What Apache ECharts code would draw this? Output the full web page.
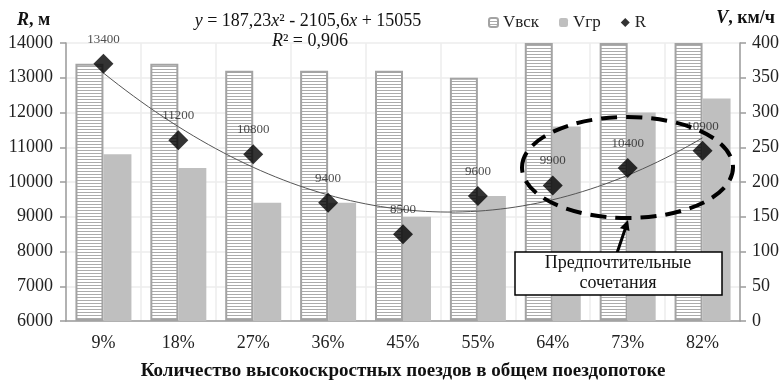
<!DOCTYPE html>
<html><head><meta charset="utf-8">
<script src="https://cdn.jsdelivr.net/npm/echarts@6/dist/echarts.min.js"></script>
<style>html,body{margin:0;padding:0;background:#fff}#c{width:779px;height:381px}</style>
</head><body><div id="c"></div>
<script>
// ---- data ----
const categories = ['9%','18%','27%','36%','45%','55%','64%','73%','82%'];
const vHighSpeed = [370,370,360,360,360,350,400,400,400];   // Vвск, км/ч (last three reach the top)
const vFreight   = [240,220,170,170,150,180,280,300,320];   // Vгр, км/ч
const radius     = [13400,11200,10800,9400,8500,9600,9900,10400,10900]; // R, м
const trendCoef  = [187.23, -2105.6, 15055];                // y = a x^2 + b x + c
const leftTicks  = [6000,7000,8000,9000,10000,11000,12000,13000,14000];
const rightTicks = [0,50,100,150,200,250,300,350,400];

const FONT = 'Liberation Serif';
const chart = echarts.init(document.getElementById('c'), null, {renderer:'canvas'});

// hatched pattern for Vвск
const pc = document.createElement('canvas'); pc.width = 4; pc.height = 3;
const g = pc.getContext('2d');
g.fillStyle = '#ffffff'; g.fillRect(0,0,4,3);
g.fillStyle = '#ababab'; g.fillRect(0,0,4,1);

const trend = [];
for (let i = 0; i <= 80; i++) {
  const x = 1 + i * 0.1;
  trend.push([x, trendCoef[0]*x*x + trendCoef[1]*x + trendCoef[2]]);
}

const axisLineStyle = {color:'#9c9c9c', width:1.5};

chart.setOption({
  backgroundColor:'#fff',
  animation:false,
  grid:{left:66, right:39, top:43, bottom:60, containLabel:false, outerBoundsMode:'none'},
  legend:{
    left:483, top:9, itemWidth:9, itemHeight:9, itemGap:20,
    data:['Vвск','Vгр','R'],
    textStyle:{fontFamily:FONT, fontSize:17, color:'#222'}
  },
  xAxis:[{
    type:'category', data:categories,
    axisLine:{lineStyle:axisLineStyle},
    axisTick:{lineStyle:axisLineStyle, length:6},
    axisLabel:{fontFamily:FONT, fontSize:18, color:'#222', margin:13},
    splitLine:{show:true, lineStyle:{color:'#ececec', width:1.5}},
    name:'Количество высокоскростных поездов в общем поездопотоке',
    nameLocation:'middle', nameGap:41,
    nameTextStyle:{fontFamily:FONT, fontSize:19, fontWeight:'bold', color:'#111'}
  },{
    type:'value', min:0.5, max:9.5, show:false
  }],
  yAxis:[{
    type:'value', min:leftTicks[0], max:leftTicks[leftTicks.length-1], interval:leftTicks[1]-leftTicks[0],
    axisLine:{show:true, lineStyle:axisLineStyle},
    axisTick:{show:true, lineStyle:axisLineStyle, length:6},
    axisLabel:{fontFamily:FONT, fontSize:18, color:'#222', margin:13, formatter:v => String(v)},
    splitLine:{show:true, lineStyle:{color:'#ececec', width:1.5}}
  },{
    type:'value', min:rightTicks[0], max:rightTicks[rightTicks.length-1], interval:rightTicks[1]-rightTicks[0],
    position:'right',
    axisLine:{show:true, lineStyle:axisLineStyle},
    axisTick:{show:true, lineStyle:axisLineStyle, length:6},
    axisLabel:{fontFamily:FONT, fontSize:18, color:'#222', margin:12, formatter:v => String(v)},
    splitLine:{show:false}
  }],
  series:[{
    name:'Vвск', type:'bar', yAxisIndex:1, data:vHighSpeed,
    barWidth:28, barGap:'0%',
    itemStyle:{color:{image:pc, repeat:'repeat'}, borderColor:'#a3a3a3', borderWidth:2},
    z:2
  },{
    name:'Vгр', type:'bar', yAxisIndex:1, data:vFreight,
    barWidth:28, barGap:'0%',
    itemStyle:{color:'#bfbfbf'},
    z:2
  },{
    name:'trend', type:'line', xAxisIndex:1, yAxisIndex:0, data:trend,
    showSymbol:false, symbol:'none', lineStyle:{color:'#555', width:1}, z:3, silent:true
  },{
    name:'R', type:'scatter', yAxisIndex:0, data:radius,
    symbol:'diamond', symbolSize:20, itemStyle:{color:'#000'},
    label:{show:true, position:'top', distance:8, fontFamily:FONT, fontSize:13, color:'#222',
      formatter:p => String(p.value)},
    z:4
  }],
  graphic:[
    {type:'text', z:100, style:{x:308, y:21, align:'center', verticalAlign:'middle',
      text:'{i|y} = 187,23{i|x}² - 2105,6{i|x} + 15055',
      fontFamily:FONT, fontSize:18, fill:'#111',
      rich:{i:{fontFamily:FONT, fontSize:18, fontStyle:'italic', fill:'#111'}}}},
    {type:'text', z:100, style:{x:310, y:41, align:'center', verticalAlign:'middle',
      text:'{i|R}² = 0,906',
      fontFamily:FONT, fontSize:18, fill:'#111',
      rich:{i:{fontFamily:FONT, fontSize:18, fontStyle:'italic', fill:'#111'}}}},
    {type:'text', z:100, style:{x:17, y:20, align:'left', verticalAlign:'middle',
      text:'{i|R}{b|, м}',
      rich:{i:{fontFamily:FONT, fontSize:18, fontStyle:'italic', fontWeight:'bold', fill:'#111'},
            b:{fontFamily:FONT, fontSize:18, fontWeight:'bold', fill:'#111'}}}},
    {type:'text', z:100, style:{x:775, y:18, align:'right', verticalAlign:'middle',
      text:'{i|V}{b|, км/ч}',
      rich:{i:{fontFamily:FONT, fontSize:18, fontStyle:'italic', fontWeight:'bold', fill:'#111'},
            b:{fontFamily:FONT, fontSize:18, fontWeight:'bold', fill:'#111'}}}},
    {type:'ellipse', z:100, shape:{cx:627.5, cy:167.5, rx:105.5, ry:50.5},
      style:{fill:'none', stroke:'#000', lineWidth:4, lineDash:[16,9]}},
    {type:'line', z:100, shape:{x1:617, y1:253, x2:625.5, y2:228},
      style:{stroke:'#000', lineWidth:3}},
    {type:'polygon', z:100, shape:{points:[[628,220],[629.5,231],[620,228]]},
      style:{fill:'#000'}},
    {type:'rect', z:100, shape:{x:515, y:252, width:207, height:43},
      style:{fill:'#fff', stroke:'#000', lineWidth:1.5}},
    {type:'text', z:101, style:{x:618, y:273.5, align:'center', verticalAlign:'middle',
      text:'Предпочтительные\nсочетания', lineHeight:20,
      fontFamily:FONT, fontSize:18, fill:'#111'}}
  ]
});
</script></body></html>
